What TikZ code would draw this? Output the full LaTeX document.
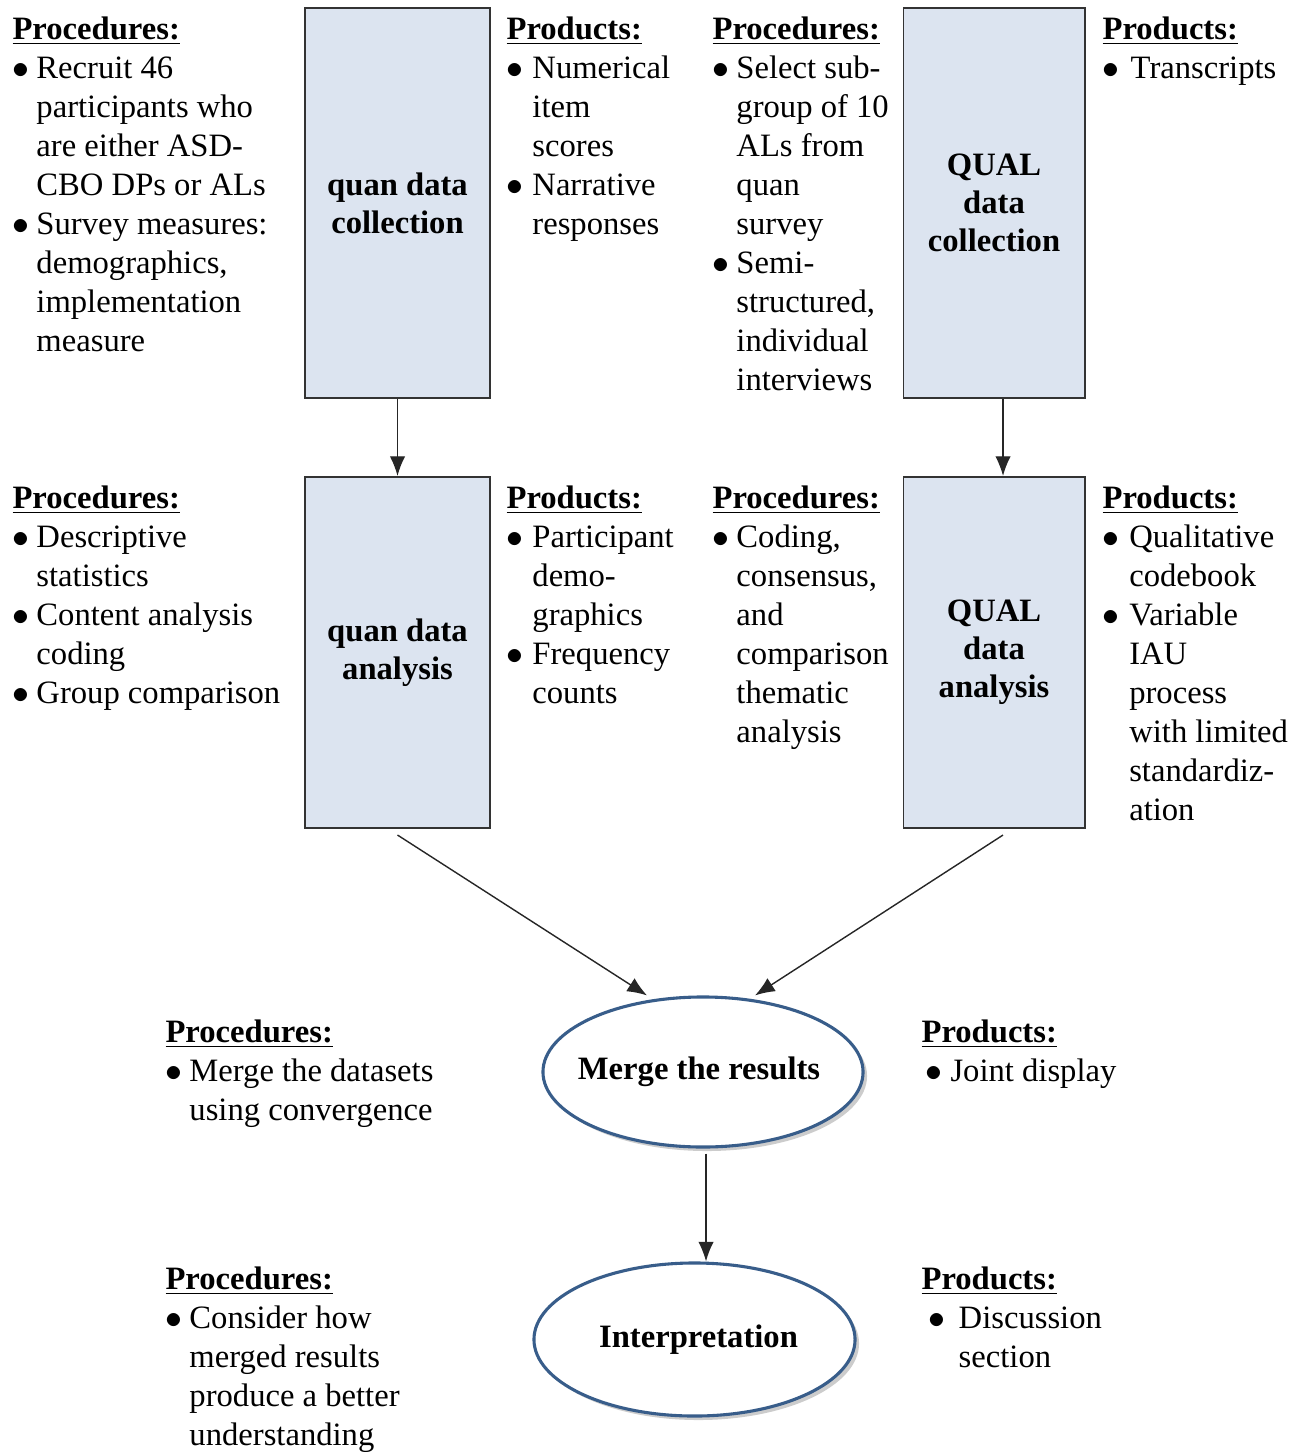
\documentclass[tikz,border=0pt]{standalone}
\usepackage{fontspec}
\setmainfont{Liberation Serif}
\usetikzlibrary{shapes.geometric,arrows.meta,shadows}

\definecolor{boxfill}{RGB}{220,228,240}
\definecolor{ovalline}{RGB}{56,93,138}

\newcommand{\hd}[1]{\underline{\textbf{#1}}}
\newcommand{\bitem}[1][8.5pt]{\makebox[#1][l]{$\bullet$}}
\newcommand{\bcont}[1][8.5pt]{\hspace*{#1}}

\tikzset{
  stage/.style={draw=black!80,line width=0.7pt,fill=boxfill,rectangle,inner sep=0pt,
    align=center,font=\fontsize{11.6}{13.5}\selectfont\bfseries},
  oval/.style={ellipse,draw=ovalline,line width=1.1pt,fill=white,inner sep=0pt,
    drop shadow={shadow xshift=0.05cm,shadow yshift=-0.05cm,opacity=0.4},
    font=\fontsize{11.6}{13.5}\selectfont\bfseries},
  notes/.style={anchor=north west,inner sep=0pt,align=left},
}

\begin{document}
\begin{tikzpicture}[x=0.0125cm,y=-0.0125cm,font=\fontsize{11.6}{13.87}\selectfont]
      \useasboundingbox (0,0) rectangle (1292,1452);
      \draw
        (397.5,203) node[stage,minimum width=2.3125cm,minimum height=4.875cm] (0){quan data\\collection}
        (994,203) node[stage,minimum width=2.2625cm,minimum height=4.875cm] (1){QUAL\\data\\collection}
        (397.5,652.5) node[stage,minimum width=2.3125cm,minimum height=4.3875cm] (2){quan data\\analysis}
        (994,652.5) node[stage,minimum width=2.2625cm,minimum height=4.3875cm] (3){QUAL\\data\\analysis}
        (703,1072) node[oval,minimum width=4cm,minimum height=1.875cm] (4){\makebox[0pt]{\hspace*{-0.1cm}Merge the results}}
        (694.5,1339.5) node[oval,minimum width=4.0125cm,minimum height=1.9125cm] (5){\makebox[0pt]{\hspace*{0.1cm}Interpretation}};

      % procedures and products beside each stage
      \node[notes] (p0) at (12,16) {\hd{Procedures:}\\
        \bitem Recruit 46\\ \bcont participants who\\ \bcont are either ASD-\\ \bcont CBO DPs or ALs\\
        \bitem Survey measures:\\ \bcont demographics,\\ \bcont implementation\\ \bcont measure};
      \node[notes] (p1) at (506,16) {\hd{Products:}\\
        \bitem[9.2pt]Numerical\\ \bcont[9.2pt]item\\ \bcont[9.2pt]scores\\
        \bitem[9.2pt]Narrative\\ \bcont[9.2pt]responses};
      \node[notes] (p2) at (712,16) {\hd{Procedures:}\\
        \bitem Select sub-\\ \bcont group of 10\\ \bcont ALs from\\ \bcont quan\\ \bcont survey\\
        \bitem Semi-\\ \bcont structured,\\ \bcont individual\\ \bcont interviews};
      \node[notes] (p3) at (1102,16) {\hd{Products:}\\
        \bitem[10pt]Transcripts};

      \node[notes] (p4) at (12,485) {\hd{Procedures:}\\
        \bitem Descriptive\\ \bcont statistics\\
        \bitem Content analysis\\ \bcont coding\\
        \bitem Group comparison};
      \node[notes] (p5) at (506,485) {\hd{Products:}\\
        \bitem[9.2pt]Participant\\ \bcont[9.2pt]demo-\\ \bcont[9.2pt]graphics\\
        \bitem[9.2pt]Frequency\\ \bcont[9.2pt]counts};
      \node[notes] (p6) at (712,485) {\hd{Procedures:}\\
        \bitem Coding,\\ \bcont consensus,\\ \bcont and\\ \bcont comparison\\ \bcont thematic\\ \bcont analysis};
      \node[notes] (p7) at (1102,485) {\hd{Products:}\\
        \bitem[9.5pt]Qualitative\\ \bcont[9.5pt]codebook\\
        \bitem[9.5pt]Variable\\ \bcont[9.5pt]IAU\\ \bcont[9.5pt]process\\ \bcont[9.5pt]with limited\\
        \bcont[9.5pt]standardiz-\\ \bcont[9.5pt]ation};

      \node[notes] (p8) at (165,1019) {\hd{Procedures:}\\
        \bitem Merge the datasets\\ \bcont using convergence};
      \node[notes] (p9) at (921,1019) {\hd{Products:}\\
        \hspace*{1.5pt}\bitem[8.8pt]Joint display};

      \node[notes] (p10) at (165,1266) {\hd{Procedures:}\\
        \bitem Consider how\\ \bcont merged results\\ \bcont produce a better\\ \bcont understanding};
      \node[notes] (p11) at (921,1266) {\hd{Products:}\\
        \hspace*{2.5pt}\bitem[10.7pt]Discussion\\ \bcont[13.2pt]section};

      \begin{scope}[-{Latex[length=7pt,width=5.5pt]},line width=0.5pt,black!85]
        \draw (0) -- (2);
        \draw ([xshift=0.1125cm]1.south) -- ([xshift=0.1125cm]3.north);
        \draw ([yshift=-0.075cm]2.south) -- ([xshift=-0.7cm]4.north);
        \draw ([xshift=0.1125cm,yshift=-0.075cm]3.south) -- ([xshift=0.65cm]4.north);
        \draw ([xshift=0.0375cm,yshift=-0.0625cm]4.south) -- ([xshift=0.0375cm]4.south |- 5.north);
      \end{scope}
    \end{tikzpicture}
\end{document}
